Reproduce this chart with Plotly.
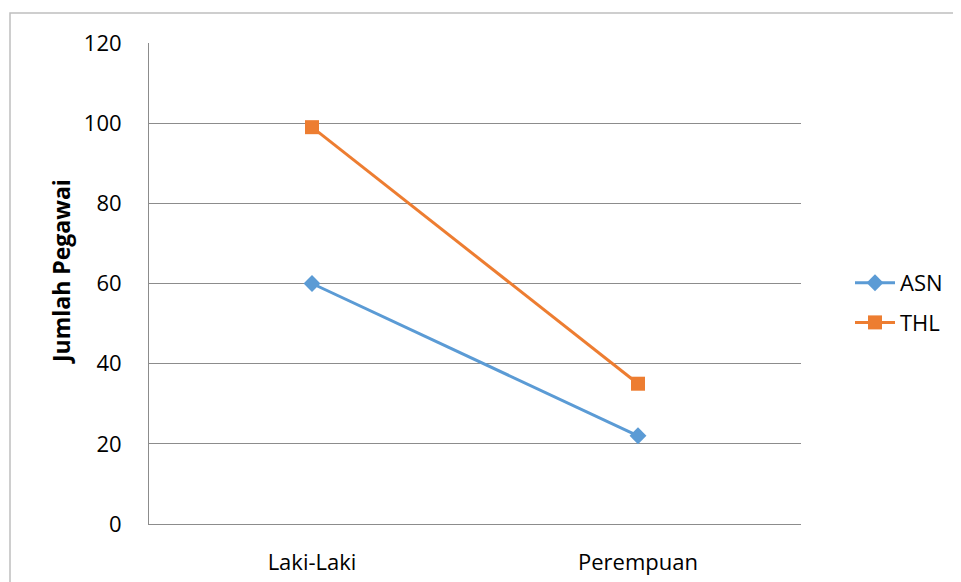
import plotly.graph_objects as go

categories = ["Laki-Laki", "Perempuan"]
asn_values = [60, 22]
thl_values = [99, 35]
series_names = ["ASN", "THL"]
y_title = "Jumlah Pegawai"

# page has an 8px body margin, so the figure is drawn 8px in from the window edge
OFF = 8
W, H = 961 - OFF, 582 - OFF
L, R, T, B = 149 - OFF, 160, 43 - OFF, 58
pw, ph = W - L - R, H - T - B

def px_x(x):  # page x -> paper x
    return (x - OFF - L) / pw

def px_y(y):  # page y -> paper y
    return (H - B - (y - OFF)) / ph

fig = go.Figure()
fig.add_trace(go.Scatter(
    x=categories, y=asn_values, name=series_names[0], mode="lines+markers",
    legendgroup="a",
    line=dict(color="#5B9BD5", width=3),
    marker=dict(symbol="diamond", size=13, color="#5B9BD5"),
))
fig.add_trace(go.Scatter(
    x=categories, y=thl_values, name=series_names[1], mode="lines+markers",
    legendgroup="b",
    line=dict(color="#ED7D31", width=3),
    marker=dict(symbol="square", size=14, color="#ED7D31"),
))

font_family = "'Open Sans', sans-serif"

fig.update_layout(
    width=W, height=H,
    margin=dict(l=L, r=R, t=T, b=B, pad=0, autoexpand=False),
    paper_bgcolor="white", plot_bgcolor="white",
    font=dict(family=font_family, size=22, color="#000000"),
    showlegend=True,
    legend=dict(
        x=px_x(850), y=px_y(262), xanchor="left", yanchor="top",
        font=dict(size=22, family=font_family),
        traceorder="grouped", tracegroupgap=8, itemwidth=40,
        bgcolor="rgba(0,0,0,0)",
    ),
    xaxis=dict(
        type="category", range=[-0.5, 1.5], automargin=False,
        showgrid=False, showline=True, linecolor="#8c8c8c", linewidth=1,
        ticks="outside", ticklen=19, tickcolor="rgba(0,0,0,0)",
        tickfont=dict(size=22), zeroline=False,
    ),
    yaxis=dict(
        range=[0, 120], dtick=20, tick0=0, automargin=False,
        showgrid=True, gridcolor="#8c8c8c", gridwidth=1,
        showline=True, linecolor="#8c8c8c", linewidth=1,
        ticks="outside", ticklen=22, tickcolor="rgba(0,0,0,0)",
        tickfont=dict(size=22), zeroline=False,
    ),
    annotations=[
        dict(text=f"<b>{y_title}</b>", xref="paper", yref="paper",
             x=px_x(61), y=px_y(272), xanchor="center", yanchor="middle",
             textangle=-90, showarrow=False, font=dict(size=23)),
    ],
    shapes=[
        dict(type="path", xref="paper", yref="paper",
             path=f"M {px_x(10)},{px_y(600)} L {px_x(10)},{px_y(13)} L {px_x(970)},{px_y(13)}",
             line=dict(color="#bfbfbf", width=1.5), layer="below"),
    ],
)

fig.write_html("out.html")
